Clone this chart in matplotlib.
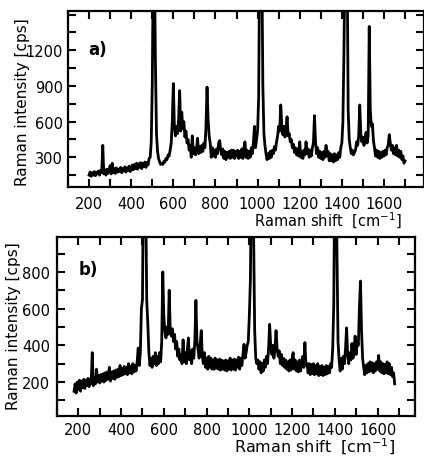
import numpy as np
import matplotlib
matplotlib.use('Agg')
import matplotlib.pyplot as plt
from matplotlib.ticker import MultipleLocator


# Spectrum a) - Raman shift from 200 to 1700 cm-1, every 5 cm-1
shift_a = np.arange(200, 1705, 5)
intensity_a = [
    150, 175, 140, 170, 150, 180, 145, 175, 160, 185, 150, 190, 170, 400, 160, 195, 150, 200, 165, 190,
    230, 160, 250, 170, 205, 165, 210, 175, 200, 180, 215, 170, 205, 185, 220, 175, 210, 190, 225, 180,
    200, 235, 195, 240, 205, 250, 200, 245, 215, 255, 205, 250, 220, 260, 215, 255, 235, 290, 300, 420,
    900, 2000, 2000, 1100, 500, 350, 290, 260, 240, 250, 240, 265, 260, 290, 280, 320, 310, 360, 420, 600,
    920, 560, 480, 560, 500, 620, 860, 520, 680, 540, 600, 470, 520, 420, 450, 360, 400, 300, 480, 330,
    380, 320, 370, 460, 330, 390, 340, 400, 350, 420, 380, 560, 890, 620, 480, 420, 300, 380, 310, 360,
    300, 370, 330, 420, 440, 360, 320, 370, 290, 350, 280, 340, 300, 350, 290, 360, 300, 360, 290, 350,
    310, 360, 290, 350, 300, 370, 290, 380, 430, 300, 360, 290, 350, 300, 380, 330, 420, 560, 380, 450,
    520, 800, 2000, 2000, 2000, 900, 500, 400, 330, 280, 330, 290, 350, 300, 360, 330, 390, 360, 430, 480,
    560, 520, 740, 560, 490, 560, 470, 540, 640, 480, 500, 430, 450, 380, 410, 340, 380, 320, 370, 310,
    430, 300, 350, 290, 360, 320, 430, 330, 370, 300, 360, 310, 380, 420, 650, 430, 330, 380, 300, 350,
    290, 340, 280, 350, 300, 400, 310, 350, 270, 330, 270, 320, 260, 330, 270, 320, 280, 340, 300, 380,
    420, 600, 1200, 2000, 2000, 2000, 700, 450, 380, 330, 360, 320, 340, 360, 430, 400, 480, 740, 500, 430,
    470, 400, 450, 510, 420, 480, 1400, 700, 560, 580, 440, 380, 310, 360, 300, 350, 290, 340, 300, 350,
    310, 360, 320, 380, 400, 490, 420, 360, 400, 330, 380, 320, 400, 310, 360, 300, 350, 280, 310, 250,
    270,
]

# Spectrum b) - Raman shift from 180 to 1680 cm-1, every 5 cm-1
shift_b = np.arange(180, 1685, 5)
intensity_b = [
    150, 190, 140, 200, 160, 210, 150, 205, 170, 215, 165, 210, 180, 220, 175, 215, 190, 360, 180, 225,
    190, 270, 200, 235, 195, 240, 205, 245, 200, 250, 210, 255, 215, 280, 205, 255, 220, 260, 215, 265,
    225, 270, 230, 290, 235, 275, 240, 285, 245, 280, 240, 300, 250, 285, 245, 300, 255, 290, 260, 310,
    385, 290, 360, 600, 650, 1400, 1400, 1200, 640, 520, 360, 290, 330, 280, 340, 300, 360, 290, 340, 300,
    360, 310, 420, 800, 560, 470, 440, 500, 460, 700, 480, 450, 490, 420, 460, 380, 420, 340, 380, 320,
    350, 300, 430, 310, 360, 300, 380, 440, 320, 370, 300, 380, 330, 420, 645, 420, 380, 330, 400, 480,
    340, 300, 360, 280, 330, 270, 340, 280, 330, 270, 320, 270, 330, 275, 320, 270, 325, 265, 320, 270,
    315, 265, 320, 260, 315, 270, 330, 265, 320, 270, 325, 265, 320, 280, 335, 270, 330, 290, 350, 405,
    330, 360, 400, 420, 560, 760, 1400, 1400, 1000, 480, 330, 300, 320, 270, 310, 250, 300, 260, 320, 280,
    340, 300, 380, 515, 400, 350, 400, 330, 380, 480, 380, 340, 370, 300, 350, 290, 330, 280, 320, 270,
    310, 260, 320, 265, 330, 360, 270, 320, 260, 310, 255, 320, 260, 300, 340, 280, 415, 290, 300, 250,
    300, 240, 295, 245, 300, 240, 290, 245, 300, 235, 285, 240, 290, 235, 280, 240, 290, 245, 285, 250,
    300, 280, 380, 620, 1400, 1400, 900, 420, 320, 260, 330, 270, 340, 300, 380, 495, 350, 300, 360, 320,
    410, 330, 380, 450, 350, 420, 400, 600, 750, 480, 330, 280, 240, 290, 250, 300, 255, 310, 260, 305,
    250, 300, 260, 310, 270, 345, 260, 310, 250, 300, 245, 295, 250, 310, 245, 300, 240, 280, 230, 250,
    190,
]

# tick labels
xticks = [200, 400, 600, 800, 1000, 1200, 1400, 1600]
yticks_a = [300, 600, 900, 1200]
yticks_b = [200, 400, 600, 800]

panels = [
    # shift, intensity, xlim, ylim, y ticks, y minor step, axes rect, tag, tag position
    (shift_a, intensity_a, (100, 1790), (50, 1530), yticks_a, 150,
     [0.1604, 0.5913, 0.8396, 0.3826], 'a)', (0.084, 0.784)),
    (shift_b, intensity_b, (100, 1775), (15, 990), yticks_b, 100,
     [0.1344, 0.0935, 0.8443, 0.3891], 'b)', (0.087, 0.821)),
]

plt.rcParams['font.family'] = 'DejaVu Sans'
fig = plt.figure(figsize=(4.24, 4.6), dpi=100)

for i, (x, y, xlim, ylim, yticks, ymin, rect, tag, tagpos) in enumerate(panels):
    ax = fig.add_axes(rect)
    ax.plot(x, y, color='black', linewidth=2.0, solid_joinstyle='round')
    ax.set_xlim(*xlim)
    ax.set_ylim(*ylim)

    ax.set_xticks(xticks)
    ax.xaxis.set_minor_locator(MultipleLocator(100))
    ax.set_yticks(yticks)
    ax.yaxis.set_minor_locator(MultipleLocator(ymin))
    ax.tick_params(which='both', direction='in', top=True, right=True,
                   length=6, width=1.5, labelsize=10.5)
    ax.tick_params(axis='x', pad=6.5 if i == 0 else 4)
    ax.tick_params(axis='y', pad=3.5 if i == 0 else 5)
    for s in ax.spines.values():
        s.set_linewidth(1.6)

    ax.text(tagpos[0], tagpos[1], tag, transform=ax.transAxes,
            fontsize=12, fontweight='bold', ha='center', va='center')

# axis titles
fig.text(0.774, 0.5196, 'Raman shift  [cm$^{-1}$]', fontsize=10.5, ha='center', va='center')
fig.text(0.743, 0.028, 'Raman shift  [cm$^{-1}$]', fontsize=11.5, ha='center', va='center')
fig.text(0.052, 0.778, 'Raman intensity [cps]', fontsize=11, rotation=90, ha='center', va='center')
fig.text(0.031, 0.291, 'Raman intensity [cps]', fontsize=11, rotation=90, ha='center', va='center')

plt.savefig('out.png', dpi=100)
